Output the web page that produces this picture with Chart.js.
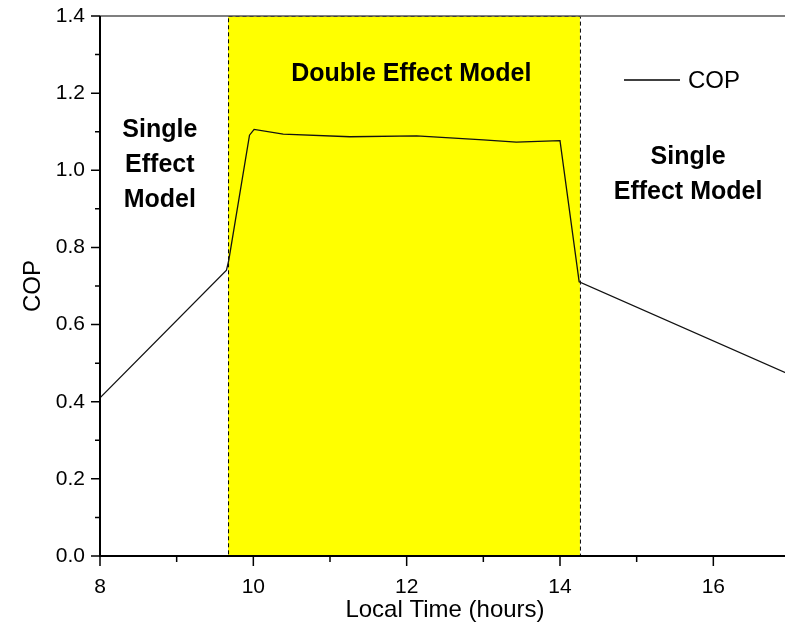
<!DOCTYPE html>
<html lang="en">
<head>
  <meta charset="UTF-8" />
  <title>COP vs Local Time</title>
  <script src="https://cdn.jsdelivr.net/npm/chart.js@4.4.0/dist/chart.umd.min.js"></script>
  <style>
    html, body {
      margin: 0;
      padding: 0;
      background: #fff;
      overflow: hidden;
    }
    #chart-container {
      position: relative;
      width: 790px;
      height: 626px;
    }
  </style>
</head>
<body>
  <div id="chart-container">
    <canvas id="copChart"></canvas>
  </div>

  <script>
    // values
    const hours = [8, 9.65, 9.68, 9.95, 10.01, 10.39, 11.26, 12.13, 13.0, 13.43, 14.0, 14.25, 17];
    const cop   = [0.41, 0.741, 0.767, 1.091, 1.106, 1.094, 1.087, 1.089, 1.079, 1.073, 1.077, 0.711, 0.47];

    // double effect band (hours)
    const bandRange = [9.67, 14.26];

    const xTicks = [8, 10, 12, 14, 16];
    const yTicks = [0.0, 0.2, 0.4, 0.6, 0.8, 1.0, 1.2, 1.4];

    // text notes: [lines, hour, cop of first line]
    const notes = [
      [['Single', 'Effect', 'Model'], 8.78, 1.105],
      [['Double Effect Model'], 12.06, 1.25],
      [['Single', 'Effect Model'], 15.67, 1.035]
    ];

    const FONT = 'Arial, "Liberation Sans", sans-serif';

    const decorPlugin = {
      id: 'decor',
      beforeDatasetsDraw(chart) {
        const { ctx, chartArea: a, scales: { x } } = chart;
        const x0 = x.getPixelForValue(bandRange[0]);
        const x1 = x.getPixelForValue(bandRange[1]);
        ctx.save();
        ctx.fillStyle = '#ffff00';
        ctx.fillRect(x0, a.top, x1 - x0, a.bottom - a.top);
        ctx.strokeStyle = '#000';
        ctx.lineWidth = 1;
        ctx.setLineDash([4, 3]);
        ctx.strokeRect(x0 + 0.5, a.top + 0.5, x1 - x0, a.bottom - a.top);
        ctx.restore();
      },
      afterDraw(chart) {
        const { ctx, chartArea: a, scales: { x, y } } = chart;
        ctx.save();
        // top frame
        ctx.strokeStyle = '#555';
        ctx.lineWidth = 1.5;
        ctx.beginPath();
        ctx.moveTo(a.left, a.top);
        ctx.lineTo(a.right, a.top);
        ctx.stroke();

        // axes
        ctx.strokeStyle = '#000';
        ctx.lineWidth = 2;
        ctx.beginPath();
        ctx.moveTo(a.left, a.top);
        ctx.lineTo(a.left, a.bottom);
        ctx.lineTo(a.right, a.bottom);
        ctx.stroke();

        // ticks, major and minor
        ctx.lineWidth = 1.5;
        ctx.beginPath();
        for (let v = 0; v <= 14; v++) {
          const py = y.getPixelForValue(v / 10);
          const len = v % 2 === 0 ? 9 : 5;
          ctx.moveTo(a.left, py);
          ctx.lineTo(a.left - len, py);
        }
        for (let h = 8; h <= 17; h++) {
          const px = x.getPixelForValue(h);
          const len = h % 2 === 0 ? 10 : 6;
          ctx.moveTo(px, a.bottom);
          ctx.lineTo(px, a.bottom + len);
        }
        ctx.stroke();

        // legend
        const lx = 624, ly = 80;
        ctx.strokeStyle = '#000';
        ctx.lineWidth = 1.4;
        ctx.beginPath();
        ctx.moveTo(lx, ly);
        ctx.lineTo(lx + 56, ly);
        ctx.stroke();
        ctx.fillStyle = '#000';
        ctx.font = '24px ' + FONT;
        ctx.textBaseline = 'middle';
        ctx.textAlign = 'left';
        ctx.fillText(chart.data.datasets[0].label, lx + 64, ly + 1);

        // notes
        ctx.font = 'bold 25px ' + FONT;
        ctx.textAlign = 'center';
        notes.forEach(([lines, h, v]) => {
          const px = x.getPixelForValue(h);
          const py = y.getPixelForValue(v);
          lines.forEach((t, i) => ctx.fillText(t, px, py + i * 35));
        });
        ctx.restore();
      }
    };

    new Chart(document.getElementById('copChart'), {
      type: 'line',
      data: {
        datasets: [{
          label: 'COP',
          data: hours.map((h, i) => ({ x: h, y: cop[i] })),
          borderColor: '#111',
          borderWidth: 1.3,
          pointRadius: 0,
          tension: 0,
          fill: false
        }]
      },
      options: {
        responsive: true,
        maintainAspectRatio: false,
        animation: false,
        events: [],
        layout: { padding: { top: 16, right: 0, left: 0, bottom: 0 } },
        plugins: {
          legend: { display: false },
          tooltip: { enabled: false }
        },
        scales: {
          x: {
            type: 'linear',
            min: 8,
            max: 17,
            afterFit: s => { s.height = 70; s.paddingLeft = 0; s.paddingRight = 0; },
            afterBuildTicks: s => { s.ticks = xTicks.map(v => ({ value: v })); },
            grid: { display: false, drawTicks: false },
            border: { display: false },
            ticks: {
              color: '#000',
              padding: 19,
              font: { family: FONT, size: 21 },
              maxRotation: 0
            },
            title: {
              display: true,
              text: 'Local Time (hours)',
              color: '#000',
              font: { family: FONT, size: 24 },
              padding: { top: 0, bottom: 1 }
            }
          },
          y: {
            min: 0,
            max: 1.4,
            afterFit: s => { s.width = 100; s.paddingTop = 0; s.paddingBottom = 0; },
            afterBuildTicks: s => { s.ticks = yTicks.map(v => ({ value: v })); },
            grid: { display: false, drawTicks: false },
            border: { display: false },
            ticks: {
              color: '#000',
              padding: 15,
              font: { family: FONT, size: 21 },
              callback: v => v.toFixed(1)
            },
            title: {
              display: true,
              text: 'COP',
              color: '#000',
              font: { family: FONT, size: 24 },
              padding: { top: 19, bottom: 0 }
            }
          }
        }
      },
      plugins: [decorPlugin]
    });
  </script>
</body>
</html>
